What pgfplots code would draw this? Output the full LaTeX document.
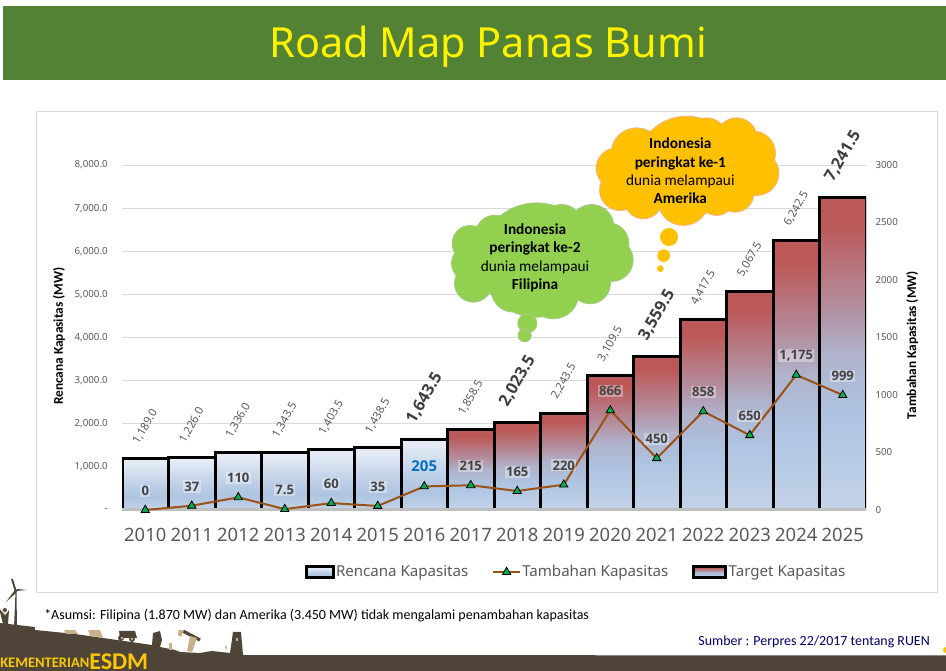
\documentclass[border=0pt]{standalone}
\usepackage{pgfplots}
\usepackage{pgfplotstable}
\usepackage{fontspec}
\pgfplotsset{compat=1.18}
\setmainfont{Noto Sans}
\newfontfamily\carl{Carlito}
\newfontfamily\ops{Open Sans}
\definecolor{band}{HTML}{548235}
\definecolor{brownb}{HTML}{4E4538}
\definecolor{tan}{HTML}{C9B08A}
\definecolor{txt}{HTML}{595959}
\definecolor{grd}{HTML}{D9D9D9}
\definecolor{ln}{HTML}{9C5215}
\definecolor{mk}{HTML}{00B050}
\definecolor{orf}{HTML}{FFC000}
\definecolor{orl}{HTML}{F4B183}
\definecolor{grf}{HTML}{92D050}
\definecolor{grl}{HTML}{A9C98A}
\definecolor{topl}{HTML}{E6ECF6}
\definecolor{midb}{HTML}{AEC4E1}
\definecolor{lowb}{HTML}{C3D3E9}
\definecolor{redt}{HTML}{BC5857}
\definecolor{redm}{HTML}{B48C9C}
\definecolor{blue205}{HTML}{0070C0}
\pgfdeclareverticalshading{rencana}{100bp}{color(0bp)=(lowb); color(25bp)=(lowb); color(38bp)=(midb); color(50bp)=(midb!70!topl); color(72bp)=(topl); color(100bp)=(topl)}
\pgfdeclareverticalshading{target}{100bp}{color(0bp)=(lowb); color(25bp)=(lowb); color(40bp)=(midb); color(50bp)=(midb!70!redm); color(58bp)=(redm); color(71bp)=(redt); color(100bp)=(redt)}
\pgfplotstableread{
x y label
2010 0 0
2011 37 37
2012 110 110
2013 7.5 7.5
2014 60 60
2015 35 35
2016 205 {}
2017 215 215
2018 165 165
2019 220 220
2020 866 866
2021 450 450
2022 858 858
2023 650 650
2024 1175 1,175
2025 999 999
}\tambahan
\tikzset{
  px/.style={shift={(0pt,503.25pt)},x=0.75pt,y=-0.75pt},
}
\newcommand\linelegendimg{\draw[ln,line width=1.5pt,mark=triangle*,mark size=3.6pt,mark options={fill=mk,draw=black,line width=0.6pt},mark repeat=2,mark phase=2] plot coordinates {(0pt,0pt) (10pt,0pt) (20pt,0pt)};}
\pgfplotsset{
  barplot/.style={ybar,bar width=1,bar shift=0pt,draw=black,line width=2.25pt,forget plot,
    nodes near coords,
    /pgf/number format/fixed,/pgf/number format/fixed zerofill,/pgf/number format/precision=1,
    /pgf/number format/1000 sep={,},/pgf/number format/assume math mode=true,
    every node near coord/.style={anchor=center,yshift=24pt,rotate=60,inner sep=0pt,text=txt,
      font=\fontsize{8.4}{10}\selectfont}},
  bigbar/.style={barplot,
    every node near coord/.style={anchor=center,yshift=31pt,rotate=60,inner sep=0pt,text=txt!70!black,
      font=\ops\bfseries\fontsize{12.2}{14}\selectfont}},
  base/.style={scale only axis,width=558pt,height=258.75pt,
    xmin=2009.5,xmax=2025.5,ymin=0,
    tick style={draw=none},major tick length=0pt},
}
\begin{document}
\begin{tikzpicture}
\useasboundingbox (0pt,0pt) rectangle (709.5pt,503.25pt);
\clip (0pt,0pt) rectangle (709.5pt,503.25pt);
\begin{scope}[px]
% title band
\fill[band] (3,6) rectangle (946,80);
\node[anchor=base,text=yellow,font=\fontsize{31.1}{38}\selectfont,inner sep=0pt] at (488,58) {Road Map Panas Bumi};
% chart frame
\draw[grd,line width=0.75pt] (36,112) rectangle (937,593);
% footer silhouette
\fill[tan] (62,617) -- (79,615) -- (86,614) -- (87,621) -- (86,625) -- (60,628) -- cycle;
\fill[brownb] (0,623) -- (35,627) -- (35,630) -- (75,634) -- (117,640) -- (152,645) -- (153,633) -- (160,631) -- (162,640) -- (160,647) -- (175,650)
  -- (180,652) -- (200,653) -- (212,651) -- (230,653) -- (233,632) -- (241,632) -- (243,655) -- (946,655.5) -- (946,671) -- (0,671) -- cycle;
\fill[tan] (64,630) -- (75,630) -- (78,634) -- (66,634) -- cycle;
\fill[tan] (88,630) -- (100,630) -- (103,638) -- (90,636) -- cycle;
\fill[brownb] (119,631) -- (135,631) -- (137,638) -- (120,638) -- cycle;
\fill[brownb] (121,638) circle (3) (132,639) circle (3);
\fill[tan] (122,638) circle (1.4) (132,639) circle (1.4);
% pumpjack
\draw[brownb,line width=2.4pt] (181,630) -- (200,640);
\fill[tan] (190,636) -- (197,638) -- (192,652) -- (187,651) -- cycle;
\fill[tan] (179,626) -- (184,630) -- (181,637) -- (178,635) -- cycle;
\fill[tan] (169,643) -- (172,643) -- (172,650) -- (169,650) -- cycle;
\fill[tan] (225,646) -- (227,646) -- (226,651) -- cycle;
\fill[tan] (236,638) rectangle (238,641);
% wind turbine & worker
\fill[brownb] (14,628) -- (15.5,592) -- (16.5,592) -- (17,628) -- cycle;
\fill[brownb] (11,579) -- (13,579) -- (17,592) -- (15,592) -- cycle;
\fill[brownb] (16,591) -- (27,590) -- (17,589) -- cycle;
\fill[brownb] (15,590) -- (6,602) -- (16,593) -- cycle;
\fill[tan] (1,608) -- (5,614) -- (8,613) -- (8,623) -- (3,623) -- (3,613) -- cycle;
\fill[brownb] (-1,608) -- (5,616) -- (9,610) -- (8,624) -- (3,624) -- cycle;
\fill[brownb] (5,610) circle (2);
% white box beneath the footnote
\fill[white] (35,594) rectangle (700,630);
\node[anchor=west,inner sep=0pt,font=\carl\fontsize{10.5}{12}\selectfont] at (44,616) {*Asumsi: Filipina (1.870 MW) dan Amerika (3.450 MW) tidak mengalami penambahan kapasitas};
\node[anchor=east,inner sep=0pt,text=blue!40!black,font=\carl\fontsize{10.45}{12}\selectfont] at (930,642) {Sumber : Perpres 22/2017 tentang RUEN};
\node[anchor=base west,inner sep=0pt,text=yellow!60!orange,font=\carl\bfseries\fontsize{10.9}{12}\selectfont] at (0,668) {KEMENTERIAN};
\node[anchor=base west,inner sep=0pt,text=yellow!60!orange,font=\carl\bfseries\fontsize{18}{18}\selectfont] at (89,669) {ESDM};
\fill[orf] (946,650) circle (3);
\end{scope}

\begin{axis}[base,at={(91.5pt,120.75pt)},anchor=south west,
  ymax=8000,
  axis x line*=bottom,axis y line*=left,
  axis line style={-,draw=none},
  ymajorgrids,grid style={grd,line width=0.75pt},
  xtick={2010,2011,2012,2013,2014,2015,2016,2017,2018,2019,2020,2021,2022,2023,2024,2025},
  xticklabels={2010,2011,2012,2013,2014,2015,2016,2017,2018,2019,2020,2021,2022,2023,2024,2025},
  xticklabel style={text=txt,font=\fontsize{13.8}{16}\selectfont,inner sep=0pt,anchor=center,yshift=-18.5pt},
  ytick={0,1000,2000,3000,4000,5000,6000,7000,8000},
  yticklabels={-,{1,000.0},{2,000.0},{3,000.0},{4,000.0},{5,000.0},{6,000.0},{7,000.0},{8,000.0}},
  yticklabel style={text=txt,font=\fontsize{7.3}{9}\selectfont,inner sep=0pt,anchor=east,xshift=-10.5pt},
  every axis y label/.style={at={(axis description cs:-0.0847,0.504)},rotate=90,anchor=center,font=\carl\bfseries\fontsize{10}{12}\selectfont},
  ylabel={Rencana Kapasitas (MW)},
  legend style={draw=none,fill=none,at={(axis description cs:0.246,-0.18)},anchor=west,
    legend columns=3,inner sep=0pt,outer sep=0pt,font=\fontsize{11.3}{13}\selectfont,text=txt,
    nodes={inner xsep=1pt},
    /tikz/every odd column/.append style={column sep=0pt},
    /tikz/every even column/.append style={column sep=17pt}},
]
\addplot[barplot,shading=rencana] coordinates {(2010,1189.0)};
\addplot[barplot,shading=rencana] coordinates {(2011,1226.0)};
\addplot[barplot,shading=rencana] coordinates {(2012,1336.0)};
\addplot[barplot,shading=rencana] coordinates {(2013,1343.5)};
\addplot[barplot,shading=rencana] coordinates {(2014,1403.5)};
\addplot[barplot,shading=rencana] coordinates {(2015,1438.5)};
\addplot[bigbar,shading=rencana] coordinates {(2016,1643.5)};
\addplot[barplot,shading=target] coordinates {(2017,1858.5)};
\addplot[bigbar,shading=target] coordinates {(2018,2023.5)};
\addplot[barplot,shading=target] coordinates {(2019,2243.5)};
\addplot[barplot,shading=target] coordinates {(2020,3109.5)};
\addplot[bigbar,shading=target] coordinates {(2021,3559.5)};
\addplot[barplot,shading=target] coordinates {(2022,4417.5)};
\addplot[barplot,shading=target] coordinates {(2023,5067.5)};
\addplot[barplot,shading=target] coordinates {(2024,6242.5)};
\addplot[bigbar,shading=target] coordinates {(2025,7241.5)};
\addlegendimage{legend image code/.code={\draw[black,line width=2.25pt,shading=rencana] (0pt,-4pt) rectangle (20pt,4pt);}}
\addlegendentry{Rencana Kapasitas}
\addlegendimage{legend image code/.code={\linelegendimg}}
\addlegendentry{Tambahan Kapasitas}
\addlegendimage{legend image code/.code={\draw[black,line width=2.25pt,shading=target] (0pt,-4pt) rectangle (24pt,4pt);}}
\addlegendentry{Target Kapasitas}
\end{axis}

\begin{axis}[base,at={(91.5pt,120.75pt)},anchor=south west,
  ymax=3000,
  axis x line*=bottom,axis y line*=right,
  axis line style={-,draw=none},
  x axis line style={draw=black!25,line width=2.25pt},
  xtick=\empty,
  ytick={0,500,1000,1500,2000,2500,3000},
  yticklabel style={text=txt,font=\fontsize{7.3}{9}\selectfont,inner sep=0pt,anchor=west,xshift=7pt,
    /pgf/number format/1000 sep={},/pgf/number format/assume math mode=true},
  every axis y label/.style={at={(axis description cs:1.062,0.478)},rotate=90,anchor=center,font=\carl\bfseries\fontsize{10}{12}\selectfont},
  ylabel={Tambahan Kapasitas (MW)},
  clip=false,
]
\addplot[ln,line width=1.5pt,mark=triangle*,mark size=3.6pt,mark options={fill=mk,draw=black,line width=0.6pt},
  point meta=explicit symbolic,nodes near coords,
  every node near coord/.style={anchor=center,yshift=14.5pt,inner sep=1pt,fill=white,fill opacity=0.35,text opacity=1,
    text=txt!75!black,font=\ops\bfseries\fontsize{9.8}{12}\selectfont},
] table[x=x,y=y,meta=label]{\tambahan};
\addplot[draw=none,mark=none,forget plot,
  point meta=explicit symbolic,nodes near coords,
  every node near coord/.style={anchor=center,yshift=15pt,inner sep=0pt,
    text=blue205,font=\ops\bfseries\fontsize{11.2}{13}\selectfont},
] coordinates {(2016,205)[205]};
\end{axis}

% clouds
\begin{scope}[px]
\begin{scope}[shift={(480,110)},x=0.25pt,y=-0.25pt]
 \def\greenlobes{(45,375) circle (58) (150,360) circle (65) (245,345) circle (60) (335,350) circle (65) (385,400) circle (60) (395,450) circle (63) (330,520) circle (60) (220,550) circle (75) (100,540) circle (65) (-30,400) circle (52) (-30,460) circle (54) (-20,520) circle (55) (170,450) circle (170)}
 \draw[grl,line width=1.4pt] \greenlobes;
 \fill[grf] \greenlobes;
 \fill[grf] (142,640) circle (29) (134,676) circle (20);
 \draw[grl,line width=.5pt] (142,640) circle (29) (134,676) circle (20);
 \def\orlobes{(470,130) circle (75) (590,110) circle (70) (680,85) circle (60) (770,85) circle (60) (820,130) circle (65) (830,190) circle (65) (765,250) circle (55) (410,175) circle (60) (420,240) circle (60) (490,270) circle (55) (610,270) circle (75) (710,265) circle (50) (620,170) circle (150)}
 \draw[orl,line width=1.4pt] \orlobes;
 \fill[orf] \orlobes;
 \fill[orf] (567,381) circle (27) (551,437) circle (19) (541,476) circle (10);
 \node[align=center,inner sep=0pt,font=\carl\fontsize{11.5}{13.8}\selectfont] at (601,183) {\textbf{Indonesia}\\\textbf{peringkat ke-1}\\dunia melampaui\\\textbf{Amerika}};
 \node[align=center,inner sep=0pt,font=\carl\fontsize{11.5}{13.8}\selectfont] at (165,444) {\textbf{Indonesia}\\\textbf{peringkat ke-2}\\dunia melampaui\\\textbf{Filipina}};
\end{scope}
\end{scope}
\end{tikzpicture}
\end{document}
